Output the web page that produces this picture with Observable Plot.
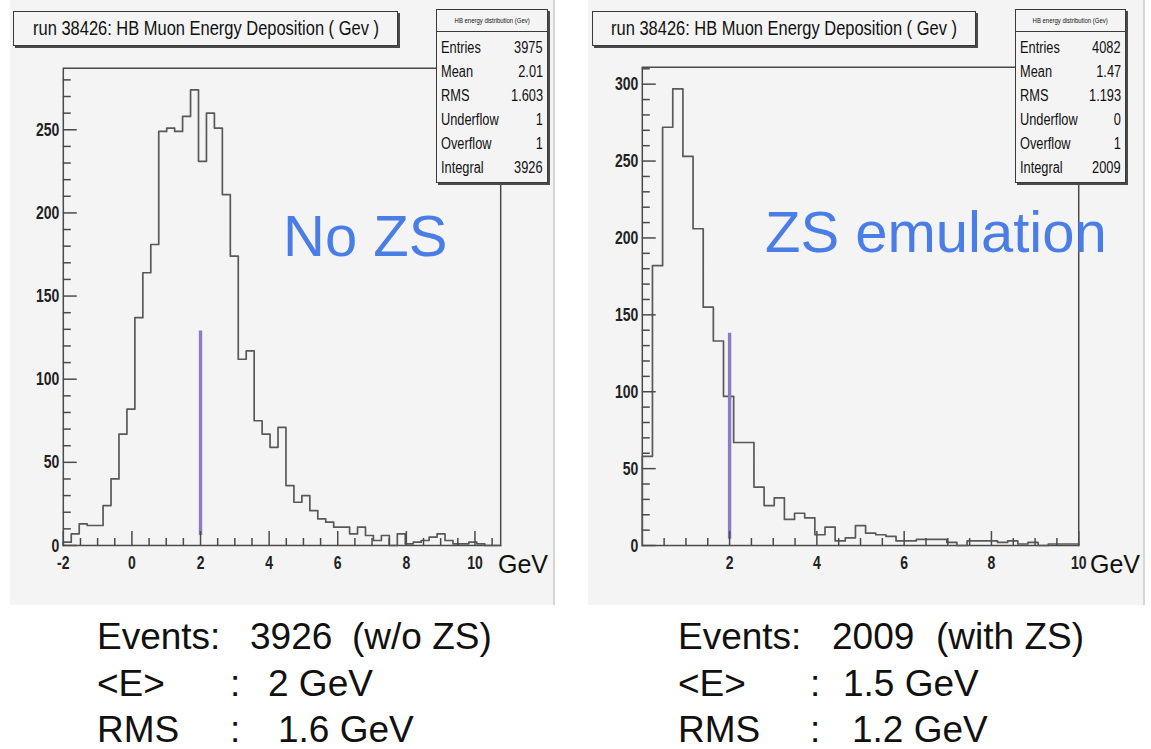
<!DOCTYPE html>
<html><head><meta charset="utf-8">
<script src="https://cdn.jsdelivr.net/npm/d3@7"></script>
<script src="https://cdn.jsdelivr.net/npm/@observablehq/plot@0.6"></script>
<style>
body{margin:0;background:#fff;width:1151px;height:749px;position:relative;overflow:hidden;font-family:"Liberation Sans",Arial,sans-serif;color:#111;}
.panel{position:absolute;top:0;height:605px;background:#f4f4f4;border-right:2px solid #d6d6d6;box-sizing:border-box;}
.panel svg{position:absolute;left:0;top:0;background:transparent;}
.abs{position:absolute;white-space:pre;}
.tbox{position:absolute;background:#f4f4f4;border:1px solid #3a3a3a;box-shadow:2px 2px 0 #4a4a4a;font-size:20px;line-height:33px;color:#111;white-space:nowrap;overflow:visible;}
.tbox span{position:absolute;left:50%;top:0;transform-origin:center;}
.sbox{position:absolute;background:#f4f4f4;border:1px solid #3a3a3a;box-shadow:2px 2px 0 #4a4a4a;color:#111;}
.sbox .hd{height:21px;border-bottom:1px solid #3a3a3a;font-size:7px;line-height:21px;text-align:center;white-space:nowrap;}
.sbox .hd span{display:inline-block;transform:scaleX(0.85);transform-origin:center;}
.sbox .row{height:24px;line-height:24px;font-size:16px;display:flex;justify-content:space-between;padding:0 4px 0 4px;white-space:nowrap;}
.sbox .row span{display:inline-block;transform:scaleX(0.8);}
.sbox .row span.l{transform-origin:left center;}
.sbox .row span.r{transform-origin:right center;}
.blue{color:#4a7ee6;}
</style></head>
<body>
<div id="root"></div>
<script>
// ---------------- data ----------------
const histTitle = "run 38426: HB Muon Energy Deposition ( Gev )";
const statsTitle = "HB energy distribution (Gev)";
const statLabels = ["Entries", "Mean", "RMS", "Underflow", "Overflow", "Integral"];
const leftStats = ["3975", "2.01", "1.603", "1", "1", "3926"];
const rightStats = ["4082", "1.47", "1.193", "0", "1", "2009"];

// left histogram: 55 bins from -2 to 10.75 GeV
const leftRange = [-2, 10.75];
const leftCounts = [2,7,13,12,12,24,40,67,82,137,164,181,249,251,249,258,274,231,260,251,211,174,112,117,75,67,59,71,36,26,30,21,16,14,11,11,7,11,6,3,6,0,7,1,2,3,5,7,3,1,1,2,1,0,0];
const leftYMax = 287;
const leftMarker = [{x: 2, lo: 6, hi: 129}];
const leftXTicks = [-2, 0, 2, 4, 6, 8, 10];
const leftYTicks = [0, 50, 100, 150, 200, 250];

// right histogram: 43 bins from 0 to 10 GeV
const rightRange = [0, 10];
const rightCounts = [58,182,272,297,253,206,155,133,97,67,67,38,26,31,17,21,18,7,12,3,5,13,8,7,6,3,3,4,4,4,2,0,3,3,3,2,3,1,2,0,1,1,1];
const rightYMax = 311;
const rightMarker = [{x: 2, lo: 4, hi: 138}];
const rightXTicks = [2, 4, 6, 8, 10];
const rightYTicks = [0, 50, 100, 150, 200, 250, 300];

const leftLabel = "No ZS";
const rightLabel = "ZS emulation";
const leftNotes = [["Events:", "3926", "(w/o ZS)"], ["<E>", ":", "2 GeV"], ["RMS", ":", "1.6 GeV"]];
const rightNotes = [["Events:", "2009", "(with ZS)"], ["<E>", ":", "1.5 GeV"], ["RMS", ":", "1.2 GeV"]];

// ---------------- helpers ----------------
const root = document.getElementById("root");
function el(cls, parent = root, tag = "div") { const d = document.createElement(tag); d.className = cls; parent.appendChild(d); return d; }
function txt(s, x, base, fs, cls = "") {
  const d = el("abs " + cls);
  d.textContent = s;
  d.style.left = x + "px";
  d.style.top = (base - 0.8465 * fs) + "px";
  d.style.fontSize = fs + "px";
  d.style.lineHeight = fs + "px";
  return d;
}
function steps(counts, range) {
  const n = counts.length, w = (range[1] - range[0]) / n;
  const pts = [{x: range[0], y: 0}];
  counts.forEach((c, i) => pts.push({x: range[0] + i * w, y: c}));
  pts.push({x: range[1], y: 0});
  return pts;
}
function minors(lo, hi, step, majorStep) {
  return d3.range(Math.ceil(lo / step) * step, hi + 1e-9, step).filter(v => Math.abs(v / majorStep - Math.round(v / majorStep)) > 1e-6);
}
const tickFont = {fontFamily: '"Liberation Sans",Arial,sans-serif', fontSize: "19px", fontWeight: "bold", background: "transparent", color: "#222", overflow: "visible"};

function panel(cfg) {
  const p = el("panel");
  p.style.left = cfg.left + "px";
  p.style.width = cfg.width + "px";
  const chart = Plot.plot({
    width: cfg.width, height: 605,
    marginLeft: cfg.mL, marginRight: cfg.mR, marginTop: cfg.mT, marginBottom: cfg.mB,
    style: tickFont,
    x: {domain: cfg.range, axis: null},
    y: {domain: [0, cfg.ymax], axis: null},
    marks: [
      Plot.frame({stroke: "#4a4a4a", strokeWidth: 1.5}),
      Plot.line(steps(cfg.counts, cfg.range), {x: "x", y: "y", curve: "step-after", stroke: "#585858", strokeWidth: 1.7}),
      Plot.ruleX(cfg.marker, {x: "x", y1: "lo", y2: "hi", stroke: "#8c7cc6", strokeWidth: 3.4}),
      Plot.axisY({ticks: minors(0, cfg.ymax, 10, 50), tickSize: -8, tickFormat: () => "", label: null, stroke: "#4a4a4a", strokeWidth: 1.5}),
      Plot.axisY({ticks: cfg.yTicks, tickSize: -14, tickPadding: 18, label: null, stroke: "#4a4a4a", strokeWidth: 1.5}),
      Plot.axisX({ticks: minors(cfg.range[0], cfg.range[1], 0.5, 2), tickSize: -7, tickFormat: () => "", label: null, stroke: "#4a4a4a", strokeWidth: 1.5}),
      Plot.axisX({ticks: cfg.xTicks, tickSize: -14, tickPadding: 24, tickFormat: d => String(d), label: null, stroke: "#4a4a4a", strokeWidth: 1.5})
    ]
  });
  p.appendChild(chart);
  // condense tick labels like the ROOT font
  chart.querySelectorAll("text").forEach(t => {
    const L = t.getComputedTextLength();
    if (L > 0) { t.setAttribute("textLength", (L * 0.74).toFixed(2)); t.setAttribute("lengthAdjust", "spacingAndGlyphs"); }
  });

  const t = el("tbox");
  Object.assign(t.style, {left: cfg.titleX + "px", top: "11px", width: cfg.titleW + "px", height: "33px"});
  const ts = el("", t, "span"); ts.textContent = histTitle;
  const w = ts.getBoundingClientRect().width;
  ts.style.transform = `translateX(-50%) scaleX(${(cfg.titleTextW / w).toFixed(3)})`;

  const s = el("sbox");
  Object.assign(s.style, {left: cfg.statsX + "px", top: "9px", width: cfg.statsW + "px", height: "172px"});
  const hd = el("hd", s); const hs = el("", hd, "span"); hs.textContent = statsTitle;
  const pad = el("", s); pad.style.height = "4px";
  statLabels.forEach((lab, i) => {
    const r = el("row", s);
    const a = el("l", r, "span"); a.textContent = lab;
    const b = el("r", r, "span"); b.textContent = cfg.stats[i];
  });
}

panel({left: 10, width: 545, mL: 53, mR: 53, mT: 68, mB: 58, range: leftRange, counts: leftCounts, ymax: leftYMax,
  marker: leftMarker, xTicks: leftXTicks, yTicks: leftYTicks, titleX: 13, titleW: 383, titleTextW: 346, statsX: 436, statsW: 110, stats: leftStats});
panel({left: 588, width: 557, mL: 54, mR: 65, mT: 67, mB: 58, range: rightRange, counts: rightCounts, ymax: rightYMax,
  marker: rightMarker, xTicks: rightXTicks, yTicks: rightYTicks, titleX: 592, titleW: 382, titleTextW: 346, statsX: 1015, statsW: 109, stats: rightStats});

// big annotations
txt(leftLabel, 283, 256, 58, "blue");
txt(rightLabel, 765, 252, 58, "blue");
txt("GeV", 498, 573, 25);
txt("GeV", 1090, 573, 25);

// notes below
const noteFs = 37;
const baselines = [649, 696, 742];
const leftCols = [[97, 250, 352], [97, 230, 268], [97, 230, 278]];
const rightCols = [[678, 832, 936], [678, 810, 843], [678, 810, 852]];
leftNotes.forEach((row, i) => row.forEach((s, j) => txt(s, leftCols[i][j], baselines[i], noteFs)));
rightNotes.forEach((row, i) => row.forEach((s, j) => txt(s, rightCols[i][j], baselines[i], noteFs)));
</script>
</body></html>
